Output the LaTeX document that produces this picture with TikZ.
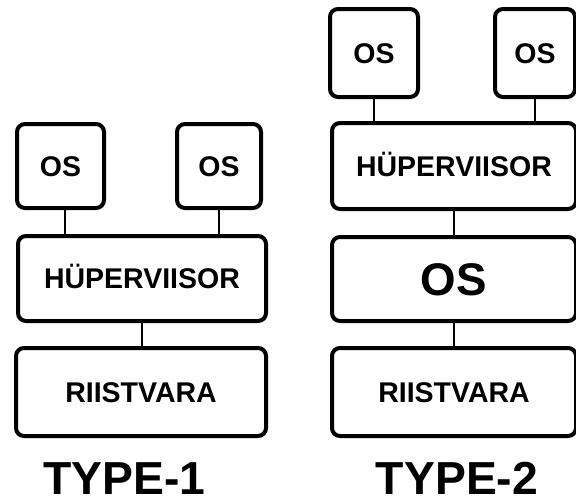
\documentclass[tikz,border=0pt]{standalone}
\usepackage{fontspec}
\setmainfont{Liberation Sans}
\usepackage{tikz}

\tikzset{
    kasten/.style={draw, line width=4pt, rounded corners=8pt, inner sep=0pt,
        font=\fontsize{28.5}{30}\selectfont\bfseries, text height=20.4pt, text depth=0pt},
    linie/.style={line width=2pt},
}

\begin{document}
\begin{tikzpicture}[x=1pt,y=-1pt]
        % Rahmen
        \clip (0,0) rectangle (576,501);

        % TYPE-1
        \node[kasten, minimum width=87pt, minimum height=84pt] (osA) at (60.5,166) {OS};
        \node[kasten, minimum width=84pt, minimum height=84pt] (osB) at (219,166) {OS};
        \node[kasten, minimum width=248pt, minimum height=85pt] (hypA) at (142,278.5) {HÜPERVIISOR};
        \node[kasten, minimum width=250pt, minimum height=88pt] (hwA) at (141,392) {RIISTVARA};

        % TYPE-2
        \node[kasten, minimum width=88pt, minimum height=88pt] (osC) at (374,53) {OS};
        \node[kasten, minimum width=80pt, minimum height=88pt] (osD) at (535,53) {OS};
        \node[kasten, minimum width=244pt, minimum height=86pt] (hypB) at (454,166) {HÜPERVIISOR};
        \node[kasten, minimum width=244pt, minimum height=84pt,
            font=\fontsize{45.7}{48}\selectfont\bfseries, text height=32.7pt] (hostos) at (454,279) {OS};
        \node[kasten, minimum width=244pt, minimum height=88pt] (hwB) at (454,392) {RIISTVARA};

        % Verbindungen
        \draw[linie] ([xshift=4pt]osA.south) -- ([xshift=4pt]osA.south |- hypA.north);
        \draw[linie] (osB.south) -- (osB.south |- hypA.north);
        \draw[linie] (hypA.south) -- (hypA.south |- hwA.north);
        \draw[linie] (osC.south) -- (osC.south |- hypB.north);
        \draw[linie] (osD.south) -- (osD.south |- hypB.north);
        \draw[linie] (hypB.south) -- (hostos.north);
        \draw[linie] (hostos.south) -- (hwB.north);

        % Beschriftungen
        \node[font=\fontsize{46.3}{48}\selectfont\bfseries, text height=33.2pt, text depth=0pt, inner sep=0pt] (typA) at (124.5,478) {TYPE-1};
        \node[font=\fontsize{46.3}{48}\selectfont\bfseries, text height=33.2pt, text depth=0pt, inner sep=0pt] (typB) at (457,478) {TYPE-2};

    \end{tikzpicture}
\end{document}
